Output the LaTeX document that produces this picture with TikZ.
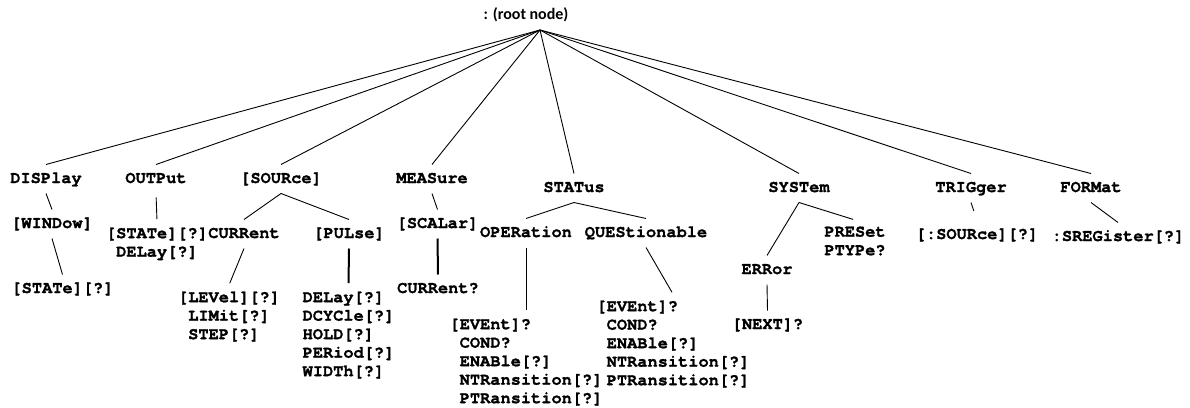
\documentclass[tikz,border=0pt]{standalone}
\usepackage{fontspec}
\newfontfamily\cmdfont[BoldFeatures={FakeBold=1.2}]{TeX Gyre Cursor}
\newfontfamily\rootfont{Carlito}
\newcommand\pad{\hspace*{0.6em}}

\tikzset{
  cmdtext/.style={font=\cmdfont\bfseries\fontsize{17}{18.5}\selectfont,
    inner xsep=0pt, inner ysep=1.5pt, outer xsep=0pt, outer ysep=5pt},
  cmd/.style={cmdtext, text height=12pt, text depth=4pt},
  cmdlist/.style={cmdtext, align=left, anchor=north},
  link/.style={black, line width=0.9pt},
  thicklink/.style={black, line width=2pt}
}

\begin{document}
\begin{tikzpicture}[x=1pt, y=-1pt]
  \useasboundingbox (0,0) rectangle (1190,407);
  \node[font=\rootfont\bfseries\fontsize{16}{18}\selectfont] (root) at (526,15) {: (root node)};
  \coordinate (top) at (540,30);

  % first level
  \node[cmd] (disp) at (46,179) {DISPlay};
  \node[cmd] (outp) at (156,179) {OUTPut};
  \node[cmd] (src) at (281,179) {[SOURce]};
  \node[cmd] (meas) at (432,179) {MEASure};
  \node[cmd] (stat) at (574,188) {STATus};
  \node[cmd] (syst) at (799,188) {SYSTem};
  \node[cmd] (trig) at (971,188) {TRIGger};
  \node[cmd] (fmt) at (1091,188) {FORMat};
  \foreach \n in {disp,outp,src,meas,stat,syst,trig,fmt}
    \draw[link] (top) -- (\n.north);

  % DISPlay
  \node[cmd] (win) at (52,224) {[WINDow]};
  \node[cmd] (winstate) at (62.5,289) {[STATe][?]};
  \draw[link] (disp.south) -- (win.north);
  \draw[link] (win.south) -- (winstate.north);

  % OUTPut
  \node[cmdlist] (outlist) at (157,221) {[STATe][?]\\\pad DELay[?]};
  \draw[link, shorten <=4pt, shorten >=2pt] (outp.south) -- (outlist.north);

  % [SOURce]
  \node[cmd] (curr) at (244,234) {CURRent};
  \node[cmd] (puls) at (349,234) {[PULse]};
  \draw[link] (src.south) -- (curr.north);
  \draw[link] (src.south) -- (puls.north);
  \node[cmdlist] (levlist) at (229,285) {[LEVel][?]\\\pad LIMit[?]\\\pad STEP[?]};
  \node[cmdlist] (pullist) at (348.5,285) {DELay[?]\\DCYCle[?]\\HOLD[?]\\PERiod[?]\\WIDTh[?]};
  \draw[link, shorten >=2pt] (curr.south) -- (levlist.north);
  \draw[thicklink, shorten >=2pt] (puls.south) -- (pullist.north);

  % MEASure
  \node[cmd] (scal) at (437.5,224) {[SCALar]};
  \node[cmd] (currq) at (438,289) {CURRent?};
  \draw[link] (meas.south) -- (scal.north);
  \draw[thicklink] (scal.south) -- (currq.north);

  % STATus
  \node[cmd] (oper) at (526,233) {OPERation};
  \node[cmd] (ques) at (646,233) {QUEStionable};
  \draw[link] (stat.south) -- (oper.north);
  \draw[link] (stat.south) -- (ques.north);
  \node[cmdlist] (operlist) at (526,312)
    {[EVEnt]?\\\pad COND?\\\pad ENABle[?]\\\pad NTRansition[?]\\\pad PTRansition[?]};
  \node[cmdlist] (queslist) at (673,294)
    {[EVEnt]?\\\pad COND?\\\pad ENABle[?]\\\pad NTRansition[?]\\\pad PTRansition[?]};
  \draw[link, shorten >=2pt] (oper.south) -- (operlist.north);
  \draw[link, shorten >=2pt] (ques.south) -- (queslist.north);

  % SYSTem
  \node[cmd] (err) at (767,270) {ERRor};
  \node[cmd] (next) at (767.5,325) {[NEXT]?};
  \node[cmdlist] (prelist) at (855,220) {PRESet\\PTYPe?};
  \draw[link] (syst.south) -- (err.north);
  \draw[link, shorten >=2pt] (syst.south) -- (prelist.north);
  \draw[link] (err.south) -- (next.north);

  % TRIGger, FORMat
  \node[cmd] (tsrc) at (977,235) {[:SOURce][?]};
  \node[cmd] (sreg) at (1118,237) {:SREGister[?]};
  \draw[link, shorten >=10pt] (trig.south) -- (tsrc.north);
  \draw[link] (fmt.south) -- (sreg.north);
\end{tikzpicture}
\end{document}
